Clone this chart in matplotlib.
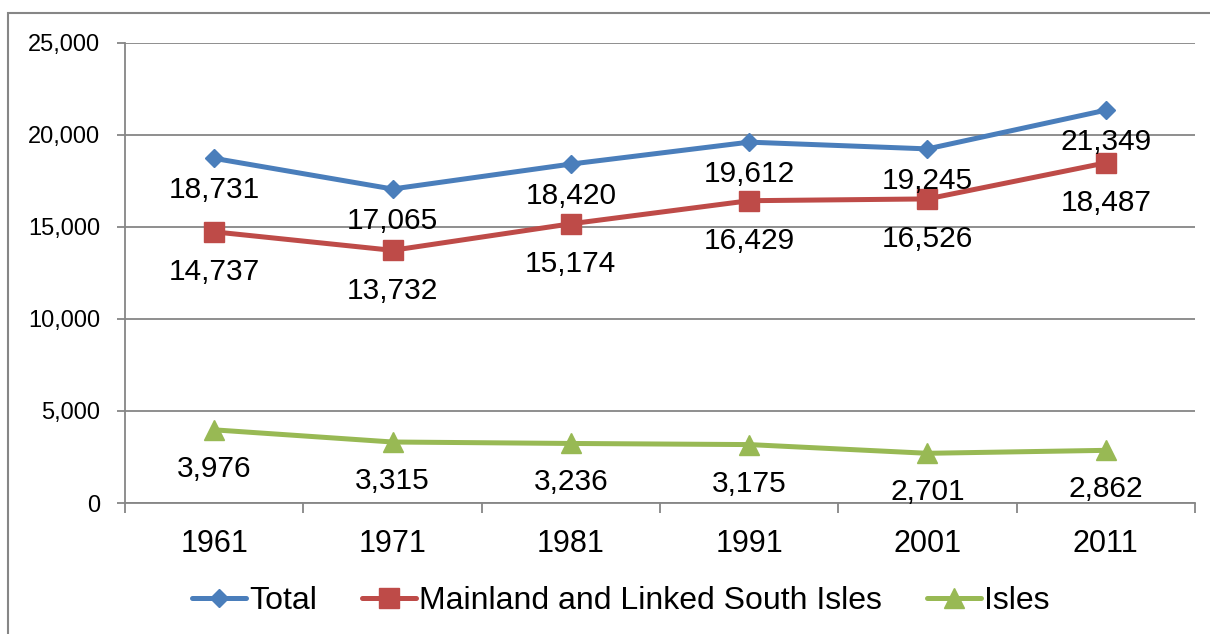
import matplotlib
matplotlib.use("Agg")
import matplotlib.pyplot as plt
from matplotlib.patches import Rectangle
from matplotlib.ticker import FuncFormatter

years = ["1961", "1971", "1981", "1991", "2001", "2011"]
total = [18731, 17065, 18420, 19612, 19245, 21349]
mainland = [14737, 13732, 15174, 16429, 16526, 18487]
isles = [3976, 3315, 3236, 3175, 2701, 2862]
series_names = ["Total", "Mainland and Linked South Isles", "Isles"]

plt.rcParams['font.family'] = ['Liberation Sans', 'DejaVu Sans']

fig = plt.figure(figsize=(12.10, 6.34), dpi=100)
ax = fig.add_axes([125/1210, 1-503/634, 1070/1210, 460/634])

grey = '#868686'
x = list(range(len(years)))

styles = [
    dict(color='#4A7EBB', marker='D', ms=9, off=13),
    dict(color='#BE4B48', marker='s', ms=14, off=19),
    dict(color='#98B954', marker='^', ms=14, off=18),
]
for vals, name, st in zip([total, mainland, isles], series_names, styles):
    ax.plot(x, vals, color=st['color'], lw=3.6, marker=st['marker'],
            ms=st['ms'], markeredgecolor=st['color'], label=name,
            solid_capstyle='round', zorder=3)
    for xi, v in zip(x, vals):
        ax.annotate(f"{v:,}", (xi, v), xytext=(0, -st['off']),
                    textcoords='offset points', ha='center', va='top',
                    fontsize=21.5, color='black', zorder=4)

ax.set_xlim(-0.5, 5.5)
ax.set_ylim(0, 25000)
ax.set_yticks(range(0, 25001, 5000))
ax.yaxis.set_major_formatter(FuncFormatter(lambda v, p: f"{int(v):,}"))
ax.grid(axis='y', color=grey, lw=1.3, zorder=0)
ax.set_axisbelow(True)

ax.set_xticks(x)
ax.set_xticklabels(years)
ax.set_xticks([i - 0.5 for i in range(len(years) + 1)], minor=True)
ax.tick_params(axis='x', which='major', length=0, pad=19, labelsize=22)
ax.tick_params(axis='x', which='minor', length=7, width=1.3, color=grey, direction='out')
ax.tick_params(axis='y', length=6, width=1.3, color=grey, direction='out', pad=12, labelsize=17)

for s in ['top', 'right']:
    ax.spines[s].set_visible(False)
for s in ['left', 'bottom']:
    ax.spines[s].set_color(grey)
    ax.spines[s].set_linewidth(1.3)

leg = fig.legend(loc='center', bbox_to_anchor=(0.513, 1-601/634), ncol=3,
                 frameon=False, fontsize=23, handlelength=1.7,
                 handletextpad=0.1, columnspacing=1.4)

fig.patches.append(Rectangle((8/1210, -0.1), 1.2, (634-13)/634 + 0.1,
                             transform=fig.transFigure, fill=False,
                             edgecolor=grey, lw=1.5))

fig.savefig("out.png", dpi=100)
